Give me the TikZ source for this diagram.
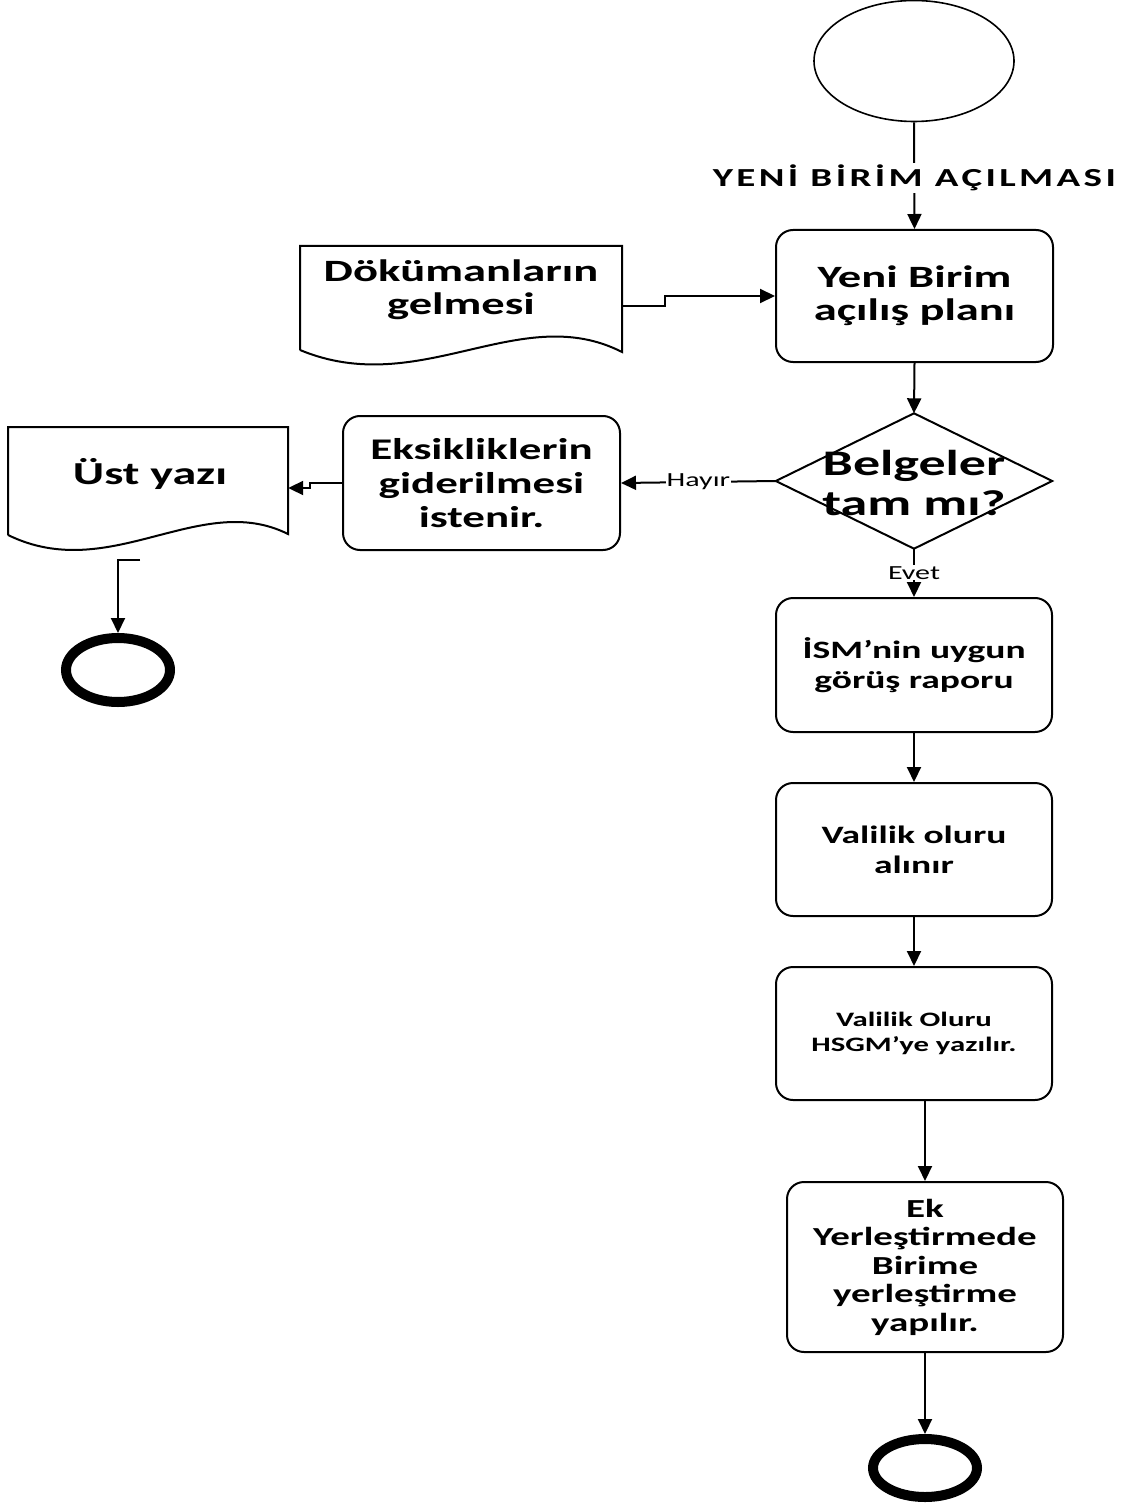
\documentclass[tikz,border=0pt]{standalone}
\usepackage{fontspec}
\setmainfont{Carlito}
\newfontfamily\widefam[FakeStretch=1.5]{Carlito}
\newfontfamily\widels[FakeStretch=1.5,LetterSpace=13]{Carlito Bold}
\usetikzlibrary{arrows.meta,shapes.geometric}
\newcommand{\myfs}[2]{\widefam\bfseries\fontsize{#1}{#2}\selectfont}
\begin{document}
\begin{tikzpicture}[x=1pt,y=-1pt,
  box/.style={draw,line width=2pt,rounded corners=17pt,align=center,inner sep=0pt},
  ghost/.style={inner sep=0pt,align=center},
  arr/.style={line width=2pt,-{Triangle[length=15pt,width=14pt]}},
  lbl/.style={fill=white,inner sep=1pt,font={\widefam\fontsize{20}{22}\selectfont}},
  endc/.style={draw,ellipse,line width=10pt,inner sep=0pt},
  outl/.style={line width=2pt}]
\useasboundingbox (0,0) rectangle (1133,1503);

% start
\node[draw,ellipse,line width=1.6pt,minimum width=200pt,minimum height=121pt,inner sep=0pt] (start) at (914,61) {};

% Yeni Birim
\node[box,minimum width=277pt,minimum height=132pt,font={\myfs{31}{33}}] (b1) at (914.5,296)
  {Yeni Birim\\açılış planı};

% Document 1
\node[ghost,minimum width=322pt,minimum height=106pt] (doc1) at (461,299) {};
\draw[outl] (300,350) -- (300,246) -- (622,246) -- (622,352)
  .. controls (520,300) and (420,400) .. (300,350);
\node[ghost,font={\myfs{31}{33}}] (t1) at (461,290) {Dökümanların\\gelmesi};

% decision
\node[ghost,minimum width=276pt,minimum height=135pt] (d) at (914,481) {};
\draw[outl] (d.north) -- (d.east) -- (d.south) -- (d.west) -- cycle;
\node[ghost,font={\myfs{36}{40}}] (dt) at (914,483) {Belgeler\\tam mı?};

% Eksiklikler
\node[box,minimum width=277pt,minimum height=134pt,font={\myfs{30}{34}}] (b2) at (481.5,483)
  {Eksikliklerin\\giderilmesi\\istenir.};

% Document 2
\node[ghost,minimum width=280pt,minimum height=107pt] (doc2) at (148,480.5) {};
\draw[outl] (8,535) -- (8,427) -- (288,427) -- (288,534)
  .. controls (200,490) and (110,585) .. (8,535);
\node[ghost,font={\myfs{32}{34}}] (t2) at (150,474) {Üst yazı};

% end left
\node[endc,minimum width=104pt,minimum height=64pt] (e1) at (118,670) {};

% ISM
\node[box,minimum width=276pt,minimum height=134pt,font={\myfs{25}{30}}] (b3) at (914,665)
  {İSM’nin uygun\\görüş raporu};

% Valilik oluru
\node[box,minimum width=276pt,minimum height=133pt,font={\myfs{25}{30}}] (b4) at (914,849.5)
  {Valilik oluru\\alınır};

% Valilik Oluru HSGM
\node[box,minimum width=276pt,minimum height=133pt,font={\myfs{20.5}{25}}] (b5) at (914,1033.5)
  {Valilik Oluru\\HSGM’ye yazılır.};

% Ek yerlestirme
\node[box,minimum width=276pt,minimum height=170pt,font={\myfs{26}{28.5}}] (b6) at (925,1267)
  {Ek\\Yerleştirmede\\Birime\\yerleştirme\\yapılır.};

% end bottom
\node[endc,minimum width=104pt,minimum height=58pt] (e2) at (925,1468) {};

% connectors
\draw[arr] (start.south) -- node[fill=white,inner sep=2pt,pos=0.52,font={\widels\fontsize{26}{28}\selectfont}] (lab1) {YENİ BİRİM AÇILMASI} (b1.north);
\draw[arr] ([yshift=-7pt]doc1.east) -- ++(43,0) |- (b1.west);
\draw[arr] (b1.south) -- (d.north);
\draw[arr] (d.west) -- node[lbl] (lab2) {Hayır} (b2.east);
\draw[arr] (b2.west) -- ++(-32,0) |- ([yshift=-7.5pt]doc2.east);
\coordinate (c1) at (140,560);
\draw[arr] (c1) -- ++(-22,0) -- (e1.north);
\draw[arr] (d.south) -- node[lbl] (lab3) {Evet} (b3.north);
\draw[arr] (b3.south) -- (b4.north);
\draw[arr] (b4.south) -- (b5.north);
\draw[arr] (b5.south -| b6.north) -- (b6.north);
\draw[arr] (b6.south) -- (e2.north);
\end{tikzpicture}
\end{document}
